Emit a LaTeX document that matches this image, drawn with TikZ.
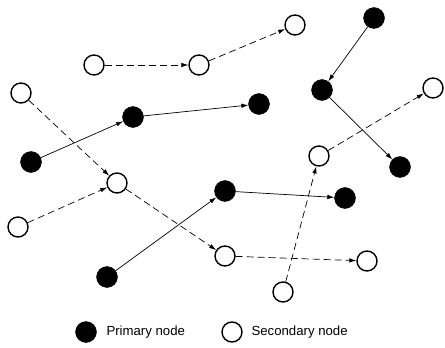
\documentclass[tikz,border=0pt]{standalone}
\usepackage{fontspec}
\setmainfont{Liberation Sans}
\usetikzlibrary{arrows.meta}
\begin{document}
\begin{tikzpicture}[x=1pt, y=-1pt, thin,
	prim/.style = {draw, circle, fill=black, minimum size=21pt, inner sep=0pt},
	sec/.style = {draw, circle, fill=white, line width=1.4pt, minimum size=20pt, inner sep=0pt},
	link/.style = {-{Latex[length=7pt,width=4.5pt]}, line width=0.7pt},
	soft/.style = {link, dash pattern=on 7pt off 4pt},
	legtext/.style = {anchor=west, font=\fontsize{13.2}{15}\selectfont}]
		\useasboundingbox (0,0) rectangle (445,348);
		% primary nodes
		\node[prim] (p1) at (374,18) {};
		\node[prim] (p2) at (322,90) {};
		\node[prim] (p3) at (400,167) {};
		\node[prim] (p4) at (31,162) {};
		\node[prim] (p5) at (133,117) {};
		\node[prim] (p6) at (259,104) {};
		\node[prim] (p7) at (107,277) {};
		\node[prim] (p8) at (225,191) {};
		\node[prim] (p9) at (345,198) {};
		% secondary nodes
		\node[sec] (s1) at (94,65) {};
		\node[sec] (s2) at (199,65) {};
		\node[sec] (s3) at (295,25) {};
		\node[sec] (s4) at (433,88) {};
		\node[sec] (s5) at (319,156) {};
		\node[sec] (s6) at (283,292) {};
		\node[sec] (s7) at (21,93) {};
		\node[sec] (s8) at (18,227) {};
		\node[sec] (s9) at (117,183) {};
		\node[sec] (s10) at (225,256) {};
		\node[sec] (s11) at (367,261) {};
		% primary links
		\draw[link] (p1) -- (p2);
		\draw[link] (p2) -- (p3);
		\draw[link] (p4) -- (p5);
		\draw[link] (p5) -- (p6);
		\draw[link] (p7) -- (p8);
		\draw[link] (p8) -- (p9);
		% secondary links
		\draw[soft] (s1) -- (s2);
		\draw[soft] (s2) -- (s3);
		\draw[soft] (s5) -- (s4);
		\draw[soft] (s6) -- (s5);
		\draw[soft] (s7) -- (s9);
		\draw[soft] (s8) -- (s9);
		\draw[soft] (s9) -- (s10);
		\draw[soft] (s10) -- (s11);
		% legend
		\node[prim] (lp) at (86,332) {};
		\node[legtext] (lpt) at (103,332) {Primary node};
		\node[sec] (ls) at (232,332) {};
		\node[legtext] (lst) at (248,332) {Secondary node};
	\end{tikzpicture}
\end{document}
